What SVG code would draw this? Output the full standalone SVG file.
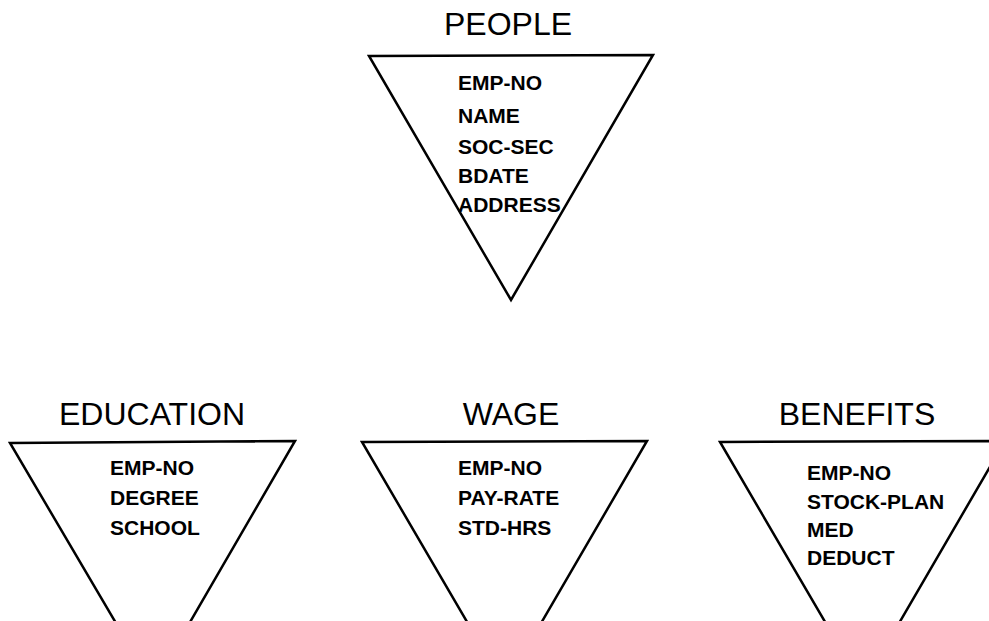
<svg xmlns="http://www.w3.org/2000/svg" width="989" height="621" viewBox="0 0 989 621">
<style>
.tri{fill:none;stroke:#000;stroke-width:2.5;stroke-linejoin:miter}
.title{font-family:"Liberation Sans",Arial,sans-serif;font-size:32px;fill:#000;text-anchor:middle}
.field{font-family:"Liberation Sans",Arial,sans-serif;font-size:21px;font-weight:bold;fill:#000}
</style>
<rect width="989" height="621" fill="#fff"/>
<g id="connectors"></g>
<g id="people">
<polygon class="tri" points="369,56 653,55 511,300"/>
<text class="title" x="508" y="35">PEOPLE</text>
<text class="field" x="458" y="90">EMP-NO</text>
<text class="field" x="458" y="123">NAME</text>
<text class="field" x="458" y="154">SOC-SEC</text>
<text class="field" x="458" y="183">BDATE</text>
<text class="field" x="458" y="212">ADDRESS</text>
</g>
<g id="education">
<polygon class="tri" points="10,443 295,441 153,686"/>
<text class="title" x="152" y="425">EDUCATION</text>
<text class="field" x="110" y="475">EMP-NO</text>
<text class="field" x="110" y="505">DEGREE</text>
<text class="field" x="110" y="535">SCHOOL</text>
</g>
<g id="wage">
<polygon class="tri" points="362,442 647,441 504.5,686"/>
<text class="title" x="511" y="425">WAGE</text>
<text class="field" x="458" y="475">EMP-NO</text>
<text class="field" x="458" y="505">PAY-RATE</text>
<text class="field" x="458" y="535">STD-HRS</text>
</g>
<g id="benefits">
<polygon class="tri" points="720,442 1005,441 862.5,686"/>
<text class="title" x="857" y="425">BENEFITS</text>
<text class="field" x="807" y="480">EMP-NO</text>
<text class="field" x="807" y="509">STOCK-PLAN</text>
<text class="field" x="807" y="537">MED</text>
<text class="field" x="807" y="565">DEDUCT</text>
</g>
</svg>
